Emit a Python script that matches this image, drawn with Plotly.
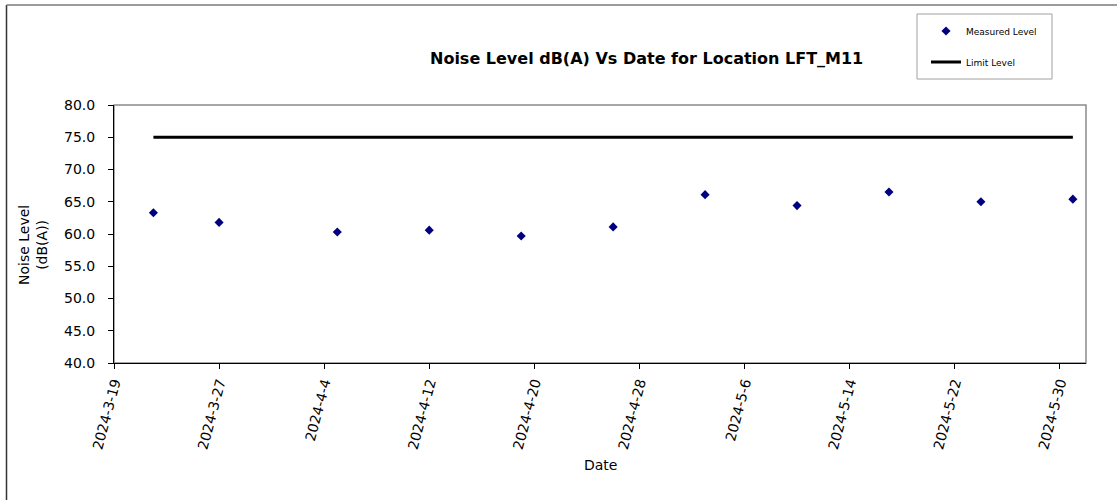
import plotly.graph_objects as go

dates = ["2024-03-22", "2024-03-27", "2024-04-05", "2024-04-12", "2024-04-19",
         "2024-04-26", "2024-05-03", "2024-05-10", "2024-05-17", "2024-05-24",
         "2024-05-31"]
measured = [63.3, 61.8, 60.3, 60.6, 59.7, 61.1, 66.1, 64.4, 66.5, 65.0, 65.4]
limit = [75.0] * len(dates)

x_range = ["2024-03-19", "2024-06-01"]
y_range = [40, 80]

FONT = "DejaVu Sans"

fig = go.Figure()
fig.add_trace(go.Scatter(
    x=dates, y=measured, mode="markers", name="Measured Level",
    marker=dict(symbol="diamond", size=7, color="#000080"),
    legendgroup="a",
))
fig.add_trace(go.Scatter(
    x=dates, y=limit, mode="lines", name="Limit Level",
    line=dict(color="black", width=3),
    legendgroup="b",
))

L, R, T, B = 114, 31, 105, 137
W, H = 1117, 500
pw, ph = W - L - R, H - T - B

def px(x):
    return (x - L) / pw

def py(y):
    return 1 - (y - T) / ph

fig.update_layout(
    width=W, height=H,
    margin=dict(l=L, r=R, t=T, b=B),
    paper_bgcolor="white", plot_bgcolor="white",
    font=dict(family=FONT, size=14, color="black"),
    showlegend=True,
    legend=dict(
        x=px(926), y=py(16.5), xanchor="left", yanchor="top",
        borderwidth=0,
        font=dict(family=FONT, size=9, color="black"),
        tracegroupgap=12, traceorder="grouped",
        bgcolor="rgba(0,0,0,0)",
    ),
    xaxis=dict(
        type="date", range=x_range,
        tick0="2024-03-19", dtick=8 * 86400000,
        tickformat="%Y-%-m-%-d", tickangle=-75,
        ticks="outside", ticklen=5, tickcolor="black",
        showline=True, linecolor="black", linewidth=1,
        showgrid=False, zeroline=False,
        tickfont=dict(family=FONT, size=14),
    ),
    yaxis=dict(
        range=y_range, dtick=5, tickformat=".1f",
        ticks="outside", ticklen=5, tickcolor="black",
        ticklabelstandoff=10,
        showline=True, linecolor="black", linewidth=1,
        showgrid=False, zeroline=False,
        tickfont=dict(family=FONT, size=14),
    ),
    shapes=[
        dict(type="rect", xref="paper", yref="paper", x0=0, x1=1, y0=0, y1=1,
             line=dict(color="#8a8a8a", width=1.5), layer="below"),
        dict(type="rect", xref="paper", yref="paper",
             x0=px(917), x1=px(1052), y0=py(14), y1=py(79),
             line=dict(color="#a0a0a0", width=1), fillcolor="white", layer="below"),
        dict(type="line", xref="paper", yref="paper",
             x0=px(6.5), x1=px(6.5), y0=py(5), y1=py(520),
             line=dict(color="#333333", width=1.5)),
        dict(type="line", xref="paper", yref="paper",
             x0=px(6.5), x1=px(1130), y0=py(5), y1=py(5),
             line=dict(color="#7a7a7a", width=1.5)),
    ],
    annotations=[
        dict(text="<b>Noise Level dB(A) Vs Date for Location LFT_M11</b>",
             xref="paper", yref="paper", x=px(646), y=py(58),
             xanchor="center", yanchor="middle", showarrow=False,
             font=dict(family=FONT, size=16, color="black")),
        dict(text="Noise Level<br>(dB(A))",
             xref="paper", yref="paper", x=px(33), y=py(245),
             xanchor="center", yanchor="middle", showarrow=False, textangle=-90,
             font=dict(family=FONT, size=14, color="black")),
        dict(text="Date",
             xref="paper", yref="paper", x=px(600), y=py(465),
             xanchor="center", yanchor="middle", showarrow=False,
             font=dict(family=FONT, size=14, color="black")),
    ],
)

fig.write_html(
    "out.html",
    config={"displayModeBar": False},
    post_script="document.body.style.margin='0';document.body.style.overflow='hidden';",
)
